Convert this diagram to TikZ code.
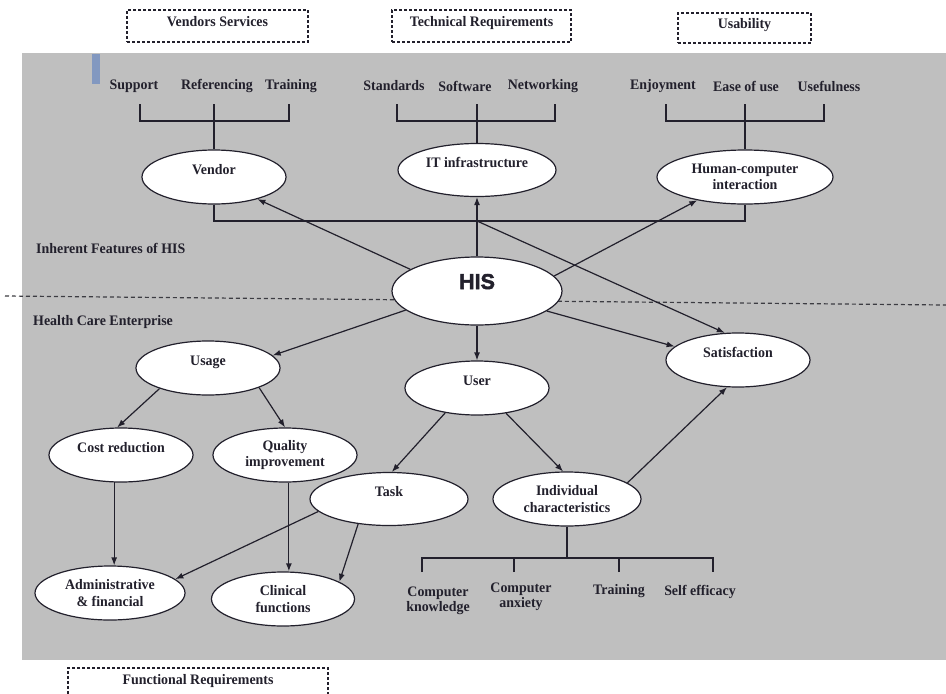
\documentclass[tikz,border=0pt]{standalone}
\usepackage{fontspec}
\setmainfont{Liberation Serif}[FakeStretch=0.96]
\newfontfamily\hisfont{Liberation Sans}[BoldFeatures={FakeBold=2.5}]
\usetikzlibrary{shapes.geometric,arrows.meta}
\definecolor{panel}{RGB}{191,191,191}
\definecolor{ink}{RGB}{34,32,44}
\definecolor{tabc}{RGB}{130,152,192}
\definecolor{sepc}{RGB}{60,60,66}
\begin{document}
\begin{tikzpicture}[x=1pt,y=-1pt,
  font=\fontsize{14.5}{16.5}\selectfont\bfseries, text=ink,
  ell/.style={ellipse, draw=ink, line width=1.2pt, fill=white, inner sep=0pt, align=center},
  one/.style={text height=10.5pt, text depth=15.5pt},
  lbl/.style={inner sep=0pt, align=center},
  arr/.style={-{Latex[length=8pt,width=6pt]}, line width=1.2pt, draw=ink},
  ln/.style={line width=1.2pt, draw=ink},
  dbox/.style={draw=ink, dash pattern=on 3pt off 2pt, line width=1.2pt, inner sep=0pt,
     text height=10pt, text depth=10pt},
  sepline/.style={draw=sepc, dash pattern=on 4pt off 3pt, line width=1.2pt}]
\clip (0,0) rectangle (946,694);
\fill[white] (0,0) rectangle (946,694);
% panel
\fill[panel] (22,53) rectangle (946,660);
\fill[tabc] (92,54) rectangle (100,84);
% top dashed boxes
\node[dbox, minimum width=181pt, minimum height=32pt] (vs) at (217.5,26) {Vendors Services};
\node[dbox, minimum width=179pt, minimum height=32pt] (tr) at (481.5,26) {Technical Requirements};
\node[dbox, minimum width=133pt, minimum height=30pt] (us) at (744.5,28) {Usability};
\node[dbox, minimum width=260pt, minimum height=32pt] (fr) at (198,684) {Functional Requirements};
% separator
\coordinate (sepL) at (5,296);
\coordinate (sepR) at (946,305);
\draw[sepline] (sepL) -- (sepR);
% side labels
\node[lbl, anchor=west] (inh) at (36,248) {Inherent Features of HIS};
\node[lbl, anchor=west] (hce) at (33,322) {Health Care Enterprise};
% top item labels
\node[lbl] (sup) at (134,86) {Support};
\node[lbl] (ref) at (217,86) {Referencing};
\node[lbl] (trn) at (291,86) {Training};
\node[lbl] (std) at (394,86) {Standards};
\node[lbl] (sw) at (465,86) {Software};
\node[lbl] (net) at (543,86) {Networking};
\node[lbl] (enj) at (663,86) {Enjoyment};
\node[lbl] (eou) at (746,86) {Ease of use};
\node[lbl] (use) at (829,86) {Usefulness};
% ellipses
\node[ell, one, minimum width=144pt, minimum height=54pt] (vendor) at (214,177) {Vendor};
\node[ell, one, minimum width=158pt, minimum height=53pt] (it) at (477,170) {IT infrastructure};
\node[ell, minimum width=176pt, minimum height=54pt] (hci) at (745,177) {Human-computer\\interaction};
\node[ell, minimum width=170pt, minimum height=68pt, text height=16pt, text depth=20pt] (his) at (477,291)
  {\hisfont\fontsize{21.5}{21.5}\selectfont\bfseries HIS};
\node[ell, one, minimum width=144pt, minimum height=54pt] (usage) at (208,368) {Usage};
\node[ell, one, minimum width=144pt, minimum height=54pt] (user) at (477,388) {User};
\node[ell, one, minimum width=144pt, minimum height=54pt] (sat) at (738,360) {Satisfaction};
\node[ell, one, minimum width=144pt, minimum height=54pt] (cost) at (121,455) {Cost reduction};
\node[ell, minimum width=144pt, minimum height=54pt] (qual) at (285,455) {Quality\\improvement};
\node[ell, one, minimum width=158pt, minimum height=53pt] (task) at (389,499) {Task};
\node[ell, minimum width=148pt, minimum height=54pt] (indiv) at (567,499) {Individual\\characteristics};
\node[ell, minimum width=150pt, minimum height=54pt] (admin) at (110,593) {Administrative\\\& financial};
\node[ell, minimum width=143pt, minimum height=54pt] (clin) at (283,599) {Clinical\\functions};
% brackets (top)
\coordinate (vbL) at (140,104); \coordinate (vbR) at (289,104); \coordinate (vbC) at (214,104);
\coordinate (ibL) at (397,104); \coordinate (ibR) at (555,104); \coordinate (ibC) at (477,104);
\coordinate (hbL) at (666,104); \coordinate (hbR) at (824,104); \coordinate (hbC) at (745,104);
\draw[ln] (vbL) -- ++(0,17) -| (vbR);
\draw[ln] (vendor.north) -- (vbC);
\draw[ln] (ibL) -- ++(0,17) -| (ibR);
\draw[ln] (it.north) -- (ibC);
\draw[ln] (hbL) -- ++(0,17) -| (hbR);
\draw[ln] (hci.north) -- (hbC);
% connector under the three
\coordinate (jn) at (477,221);
\draw[ln] (vendor.south) -- (vendor.south |- jn) -| (hci.south);
% arrows from HIS
\draw[arr] (his.162) -- (vendor.333);
\draw[arr] (his.north) -- (it.south);
\draw[arr] (his.11) -- (hci.206);
\draw[arr] (jn) -- (sat.116);
\draw[arr] (his.195) -- (usage.11);
\draw[arr] (his.south) -- (user.north);
\draw[arr] (his.344) -- (sat.168);
% lower arrows
\draw[arr] (usage.203) -- (cost.98);
\draw[arr] (usage.339) -- (qual.north);
\draw[arr] (user.218) -- (task.84);
\draw[arr] (user.319) -- (indiv.98);
\draw[arr] (indiv.15) -- (sat.248);
\draw[arr] (cost.256) -- (cost.256 |- admin.north);
\draw[arr] (qual.278) -- (qual.278 |- clin.north);
\draw[arr] (task.190) -- (admin.12);
\draw[arr] (task.219) -- (clin.17);
% individual characteristics bracket
\coordinate (ib) at (567,558);
\coordinate (t1) at (422,572); \coordinate (t2) at (514,572);
\coordinate (t3) at (619,572); \coordinate (t4) at (713,572);
\draw[ln] (indiv.south) -- (ib);
\draw[ln] (t1) |- (ib) -| (t4);
\draw[ln] (t2) -- (t2 |- ib);
\draw[ln] (t3) -- (t3 |- ib);
\begin{scope}[font=\fontsize{14.5}{15}\selectfont\bfseries]
\node[lbl] (ck) at (438,601) {Computer\\knowledge};
\node[lbl] (ca) at (521,597) {Computer\\anxiety};
\node[lbl] (tr2) at (619,591) {Training};
\node[lbl] (se) at (700,592) {Self efficacy};
\end{scope}
\end{tikzpicture}
\end{document}
